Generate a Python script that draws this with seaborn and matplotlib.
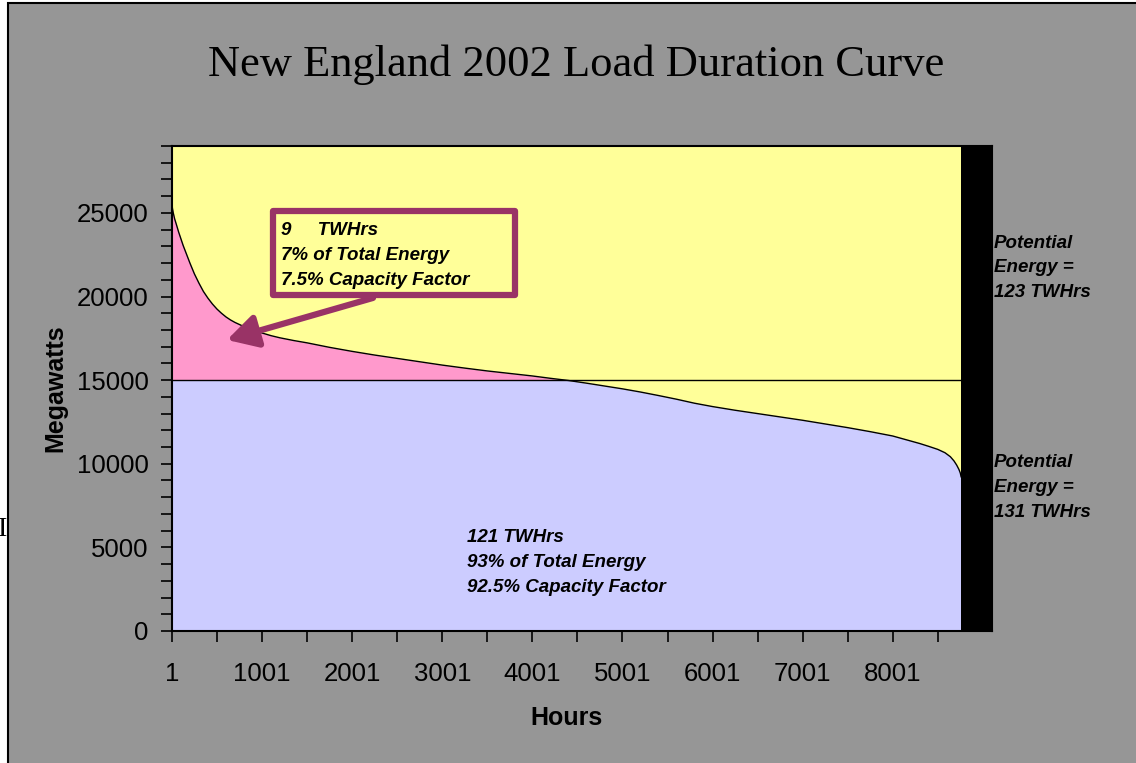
import numpy as np
import pandas as pd
import matplotlib.pyplot as plt
from matplotlib.patches import Rectangle
import seaborn as sns

# Values (hour rank, load in MW)
hours = [1, 5, 15, 30, 50, 75, 100, 125, 150, 200, 250, 300, 350, 400, 450,
         500, 550, 600, 650, 700, 800, 900, 1000, 1100, 1200, 1350, 1500,
         1750, 2000, 2250, 2500, 2750, 3000, 3250, 3500, 3750, 4000, 4200,
         4400, 4600, 4800, 5000, 5200, 5400, 5600, 5800, 6000, 6250, 6500,
         6750, 7000, 7250, 7500, 7750, 8000, 8100, 8200, 8300, 8400, 8500,
         8580, 8640, 8680, 8710, 8735, 8750, 8760]
megawatts = [25800, 25300, 25000, 24650, 24300, 23850, 23450, 23050, 22700,
             22000, 21350, 20800, 20300, 19900, 19550, 19250, 19000, 18780,
             18600, 18450, 18200, 18000, 17820, 17660, 17530, 17370, 17230,
             16960, 16720, 16500, 16300, 16100, 15900, 15720, 15550, 15400,
             15250, 15110, 14980, 14820, 14650, 14480, 14290, 14080, 13860,
             13620, 13420, 13200, 13000, 12800, 12600, 12380, 12160, 11920,
             11660, 11510, 11360, 11210, 11040, 10860, 10660, 10420, 10170,
             9920, 9660, 9450, 9200]

threshold = 15000
year_hours = 8760
x_end = 9102
x_major = [1, 1001, 2001, 3001, 4001, 5001, 6001, 7001, 8001]
x_minor = [501, 1501, 2501, 3501, 4501, 5501, 6501, 7501, 8501]
x_labels = ["1", "1001", "2001", "3001", "4001", "5001", "6001", "7001", "8001"]
y_major = [0, 5000, 10000, 15000, 20000, 25000]

peak_lines = ["9     TWHrs", "7% of Total Energy", "7.5% Capacity Factor"]
base_lines = ["121 TWHrs", "93% of Total Energy", "92.5% Capacity Factor"]
pot_top = ["Potential", "Energy =", "123 TWHrs"]
pot_bottom = ["Potential", "Energy =", "131 TWHrs"]

gray = "#969696"
yellow = "#FFFF99"
pink = "#FF99CC"
lavender = "#CCCCFF"
plum = "#993366"

sns.set_style("ticks")
plt.rcParams["font.family"] = ["Liberation Sans", "DejaVu Sans"]
plt.rcParams["text.color"] = "black"
plt.rcParams["axes.labelcolor"] = "black"
plt.rcParams["xtick.color"] = "black"
plt.rcParams["ytick.color"] = "black"

df = pd.DataFrame({"Hours": hours, "Megawatts": megawatts})

W, H = 1136, 763
fig = plt.figure(figsize=(W / 100, H / 100), dpi=100, facecolor="white")
fig.patches.append(Rectangle((8 / W, -0.02), 1.1, 1.02 - 3 / H,
                             transform=fig.transFigure, facecolor=gray,
                             edgecolor="black", lw=1.5, zorder=-10))

ax = fig.add_axes([172 / W, 132 / H, 820 / W, 485 / H])
ax.set_facecolor(yellow)

mw = df["Megawatts"].to_numpy()
ax.fill_between(df["Hours"], 0, np.minimum(mw, threshold), color=lavender, lw=0)
ax.fill_between(df["Hours"], threshold, mw, where=mw >= threshold,
                interpolate=True, color=pink, lw=0)
sns.lineplot(data=df, x="Hours", y="Megawatts", color="black", lw=1, ax=ax)
ax.hlines(threshold, 1, year_hours, color="black", lw=1)
ax.axvspan(year_hours, x_end, color="black", lw=0)

ax.set_xlim(1, x_end)
ax.set_ylim(0, 29000)
ax.set_xticks(x_major)
ax.set_xticklabels(x_labels)
ax.set_xticks(x_minor, minor=True)
ax.set_yticks(y_major)
ax.set_yticks([v for v in range(0, 29001, 1000) if v % 5000], minor=True)
ax.tick_params(axis="both", which="both", direction="out", length=8,
               width=1.2, color="black")
ax.tick_params(axis="x", which="major", labelsize=18.5, pad=14)
ax.tick_params(axis="y", which="major", labelsize=18.5, pad=9)
for s in ax.spines.values():
    s.set_color("black")
    s.set_linewidth(1.5)

ax.set_xlabel("Hours", fontsize=18, fontweight="bold")
ax.set_ylabel("Megawatts", fontsize=18, fontweight="bold")
ax.xaxis.set_label_coords((567 - 172) / 820, (631 - 718) / 485)
ax.xaxis.label.set_va("center")
ax.yaxis.set_label_coords((55 - 172) / 820, (631 - 388) / 485)
ax.yaxis.label.set_va("center")

fig.text(576 / W, 1 - 65 / H, "New England 2002 Load Duration Curve",
         family="Liberation Serif", fontsize=32, ha="center", va="center")

# annotation box + arrow
px_h = lambda px: (px - 172) / 0.0901 + 1
py_mw = lambda py: (631 - py) / 0.01672
ax.add_patch(Rectangle((px_h(273), py_mw(295)), px_h(515) - px_h(273),
                       py_mw(211) - py_mw(295), facecolor="none",
                       edgecolor=plum, lw=4.5, joinstyle="round", zorder=5))
ax.annotate("", xy=(px_h(227), py_mw(340)), xytext=(px_h(373), py_mw(298)),
            arrowprops=dict(arrowstyle="-|>,head_length=0.9,head_width=0.5",
                            mutation_scale=20, lw=4.5, color=plum,
                            shrinkA=0, shrinkB=0), zorder=5)

txt = dict(fontsize=13.5, fontweight="bold", fontstyle="italic",
           ha="left", va="baseline")
for line, y in zip(peak_lines, [235, 260, 285]):
    fig.text(281 / W, 1 - y / H, line, **txt)
for line, y in zip(base_lines, [542, 567, 592]):
    fig.text(467 / W, 1 - y / H, line, **txt)
for line, y in zip(pot_top, [248, 272, 297]):
    fig.text(994 / W, 1 - y / H, line, **txt)
for line, y in zip(pot_bottom, [467, 492, 517]):
    fig.text(994 / W, 1 - y / H, line, **txt)

fig.text(3 / W, 1 - 530 / H, "I", family="Liberation Serif", fontsize=20,
         ha="center", va="center")

fig.savefig("out.png", dpi=100, facecolor=fig.get_facecolor())
